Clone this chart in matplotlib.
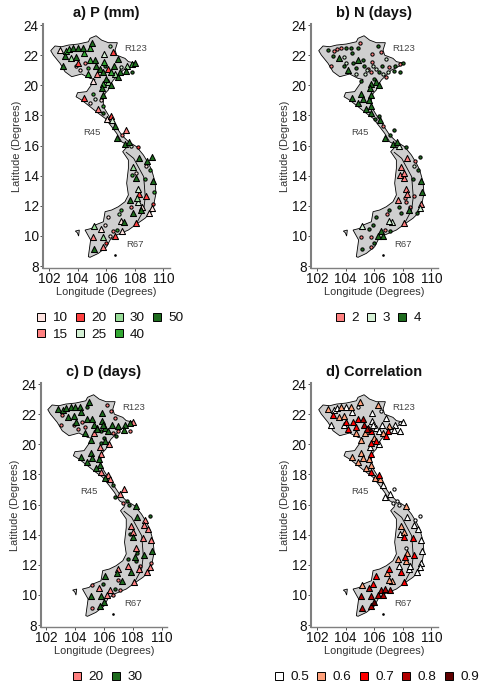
import matplotlib
matplotlib.use("Agg")
import matplotlib.pyplot as plt
from matplotlib.lines import Line2D

plt.rcParams['font.family'] = ['Liberation Sans', 'DejaVu Sans']

W, H = 480, 689

# Country outline (degrees)
OUT_LON = [102.12,102.42,102.89,103.35,104.05,104.75,104.87,105.29,105.68,106.15,106.78,106.62,106.73,107.31,107.55,108.13,107.78,107.2,106.85,106.5,106.27,106.15,105.92,105.8,105.8,106.15,106.62,107.08,107.55,108.13,108.6,108.95,109.18,109.41,109.48,109.34,109.18,108.71,108.13,107.55,106.73,106.27,106.03,105.45,104.87,104.75,104.91,104.52,104.98,105.22,105.8,105.92,106.38,106.85,107.31,107.55,107.43,107.55,107.55,107.2,107.15,107.4,107.45,107.08,106.73,106.38,105.92,105.45,104.87,104.28,103.89,104.0,104.63,104.87,105.22,104.87,104.28,103.59,103.12,102.77,102.3]
OUT_LAT = [22.30,22.61,22.56,22.67,22.74,22.89,23.12,23.29,23.0,22.83,22.83,22.34,22.0,21.79,21.57,21.46,21.28,21.01,20.68,20.35,20.02,19.69,19.46,19.02,18.58,18.03,17.36,16.7,16.26,15.92,15.37,14.82,14.38,13.6,12.83,12.16,11.61,11.17,10.79,10.39,10.06,9.73,9.28,8.84,8.58,8.62,9.73,10.39,10.5,10.72,10.94,11.61,11.72,11.94,12.27,12.72,13.5,14.49,15.04,15.53,15.59,15.85,16.05,16.25,16.81,17.25,17.81,18.14,18.58,19.02,19.24,19.51,19.58,19.91,20.39,20.46,20.75,20.57,20.9,21.46,22.01]
ISL_LON = [103.84,104.12,104.07,103.98]
ISL_LAT = [10.32,10.39,9.99,10.21]
DOT_LON = [106.64]
DOT_LAT = [8.71]
DIV_LON = [107.4,107.92,108.62,108.73,108.62,108.13]
DIV_LAT = [15.55,15.15,13.93,12.6,11.72,10.85]

# Stations (degrees)
LON = [102.8,103.2,103.4,103.7,104.0,104.35,105.0,104.85,105.85,106.5,
       106.25,104.45,103.1,103.55,103.9,104.05,103.0,104.85,105.2,105.85,
       106.8,106.55,107.45,107.8,108.0,104.7,105.35,105.1,105.3,105.55,
       105.8,106.1,106.3,106.96,107.4,106.6,106.85,106.0,105.8,106.1,
       106.35,105.7,104.5,104.7,103.9,104.2,107.0,107.8,105.5,105.95,
       104.45,105.8,105.1,105.2,104.85,105.65,105.75,105.45,106.3,105.8,
       106.05,106.4,106.6,107.4,107.1,106.75,107.3,107.6,107.75,108.25,
       109.2,108.3,108.85,107.85,108.05,108.75,109.05,107.8,108.05,108.7,
       109.25,109.35,108.25,108.3,108.15,108.25,107.65,108.8,107.7,107.85,
       108.4,108.5,109.25,109.2,109.0,107.0,106.9,106.1,107.25,107.0,
       108.1,107.1,105.95,105.15,105.65,105.1,105.8,106.45,106.75,106.25,
       106.6,106.0,105.15,105.75]
LAT = [22.35,22.3,22.4,22.45,22.45,22.5,22.8,22.45,22.1,22.2,
       22.6,22.15,21.95,21.8,21.85,21.45,21.3,21.65,21.7,21.55,
       21.75,21.3,21.3,21.4,21.45,20.75,20.75,20.3,21.3,21.1,
       20.9,21.1,20.85,20.85,20.95,20.75,20.55,20.45,20.1,20.2,
       20.0,19.85,21.5,21.15,21.25,21.0,21.2,20.9,21.0,21.3,
       19.15,19.35,19.4,19.1,18.85,19.0,18.65,18.4,17.95,18.15,
       17.75,17.7,17.3,17.05,16.7,16.5,16.1,16.25,16.0,15.9,
       15.26,15.2,15.0,14.55,13.83,14.65,14.4,14.05,14.2,13.8,
       13.65,12.9,13.1,12.8,12.55,12.25,12.4,12.65,11.9,11.5,
       11.7,11.9,12.1,11.85,11.5,11.7,11.45,11.25,10.9,11.0,
       10.85,10.35,10.7,10.65,10.45,9.95,9.95,10.3,10.4,10.0,
       10.0,9.55,9.15,9.25]

# Class index per station and marker flag (1 = triangle, 0 = circle)
A_CLASS = "0556666532" "4564626565" "6645651066" "6256646654" "6615003666" "2653005126" "0361166632" "6664605505" "6532436216" "6020054060" "2004014150" "2261"
A_TRI = "1111111111" "0111111111" "1111111111" "1111111111" "1100000000" "1100000110" "1111011100" "1111100000" "1011111101" "1101100011" "1101111000" "1011"
B_CLASS = "2000220200" "2222110220" "1220211220" "0121210222" "2222220211" "2222222222" "2202222212" "2000012002" "2200000022" "2001220211" "0221200202" "2220"
B_TRI = "0000000000" "0001000100" "0000000000" "0000000011" "1100010000" "1111111101" "0100011110" "0101100110" "1111001000" "1011000011" "1001000101" "1000"
C_CLASS = "1111111110" "0101110111" "0111010111" "1110101111" "0000001011" "1011111100" "1010010111" "1100100100" "0101111101" "0000001110" "0010011010" "0101"
C_TRI = "1111111010" "0101110111" "0111111111" "0110100001" "1100001011" "1111111111" "1101100001" "0111111011" "1110100111" "1001111110" "1000111101" "0101"
D_CLASS = "1001011000" "1021120230" "0000011133" "2002012122" "0022021030" "1211111122" "1100000001" "0001200012" "0001211202" "0000021211" "2321333333" "3433"
D_TRI = "1111111010" "1111111111" "1110111111" "1111111111" "1111111111" "1111111111" "1110110001" "0101111111" "1101111111" "1111111111" "1111111111" "1111"

A_LABELS = ["10","15","20","25","30","40","50"]
A_COLORS = ["#FFE4E1","#FF8080","#FF4040","#D4F0D4","#98DC98","#33A833","#1E6B1E"]
B_LABELS = ["2","3","4"]
B_COLORS = ["#FF8080","#D4F0D4","#1E6B1E"]
C_LABELS = ["20","30"]
C_COLORS = ["#FF8080","#1E6B1E"]
D_LABELS = ["0.5","0.6","0.7","0.8","0.9"]
D_COLORS = ["#FFFFFF","#FFA07A","#FF0000","#B00000","#600000"]

XTICKS = [102,104,106,108,110]
YTICKS = [8,10,12,14,16,18,20,22,24]
REGION_NAMES = ["R123","R45","R67"]
REGION_LON = [108.08,105.0,108.0]
REGION_LAT = [22.44,16.85,9.46]

fig = plt.figure(figsize=(W/100, H/100), dpi=100)

def panel(rect, xlim, title, cls, tri, labels, colors, leg_xy, ncol):
    l, t, r, b = rect
    ax = fig.add_axes([l/W, 1-b/H, (r-l)/W, (b-t)/H])
    ax.set_xlim(*xlim)
    ax.set_ylim(7.87, 24.07)
    for s in ('top','right'):
        ax.spines[s].set_visible(False)
    ax.spines['left'].set_color('#7f7f7f'); ax.spines['left'].set_linewidth(1.5)
    ax.spines['bottom'].set_color('#7f7f7f'); ax.spines['bottom'].set_linewidth(1.0)
    ax.set_xticks(XTICKS); ax.set_yticks(YTICKS)
    ax.tick_params(labelsize=9.8, length=2, width=0.6, color='#333333', pad=1, labelcolor='#111111')
    ax.set_xlabel("Longitude (Degrees)", fontsize=7.9, color='#333333', labelpad=0.5)
    ax.set_ylabel("Latitude (Degrees)", fontsize=7.9, color='#333333', labelpad=1.5)
    ax.set_title(title, fontsize=10.5, fontweight='bold', pad=5, color='#111111')
    ax.fill(OUT_LON, OUT_LAT, facecolor='#cfcfcf', edgecolor='black', lw=0.6, zorder=2)
    ax.fill(ISL_LON, ISL_LAT, facecolor='#cfcfcf', edgecolor='black', lw=0.6, zorder=2)
    ax.plot(DOT_LON, DOT_LAT, 'o', ms=0.9, color='black', zorder=2)
    ax.plot(DIV_LON, DIV_LAT, color='black', lw=0.6, zorder=2)
    for name, x, y in zip(REGION_NAMES, REGION_LON, REGION_LAT):
        ax.text(x, y, name, fontsize=6.8, ha='center', va='center', color='#444444', zorder=5)
    n = len(LON)
    assert all(len(v) == n for v in (LAT, cls, tri))
    # circles below triangles
    for flag, marker, size, z in (("0", 'o', 5.5, 3), ("1", '^', 19, 4)):
        for k, col in enumerate(colors):
            xs = [LON[i] for i in range(n) if tri[i] == flag and int(cls[i]) == k]
            ys = [LAT[i] for i in range(n) if tri[i] == flag and int(cls[i]) == k]
            if xs:
                ax.scatter(xs, ys, s=size, marker=marker, facecolor=col,
                           edgecolor='black', linewidth=0.75, zorder=z, clip_on=False)
    handles = [Line2D([], [], ls='', marker='s', ms=5.4, mfc=c, mec='black', mew=0.7) for c in colors]
    fig.legend(handles, labels, ncol=ncol, loc='upper left',
               bbox_to_anchor=(leg_xy[0]/W, 1-leg_xy[1]/H), frameon=False, borderpad=0, borderaxespad=0,
               fontsize=9.7, handlelength=0.6, handletextpad=0.55, columnspacing=0.6, labelspacing=0.28,
               labelcolor='#111111')
    return ax

panel((43,24,170,268), (101.58,110.46), "a) P (mm)", A_CLASS, A_TRI, A_LABELS, A_COLORS, (37,312), 4)
panel((311,24,438,268), (101.58,110.46), "b) N (days)", B_CLASS, B_TRI, B_LABELS, B_COLORS, (336,312), 3)
panel((41,383,167,627), (101.65,110.37), "c) D (days)", C_CLASS, C_TRI, C_LABELS, C_COLORS, (73,671), 2)
panel((311,383,438,627), (101.58,110.46), "d) Correlation", D_CLASS, D_TRI, D_LABELS, D_COLORS, (275,671), 5)

fig.savefig("out.png", dpi=100)
